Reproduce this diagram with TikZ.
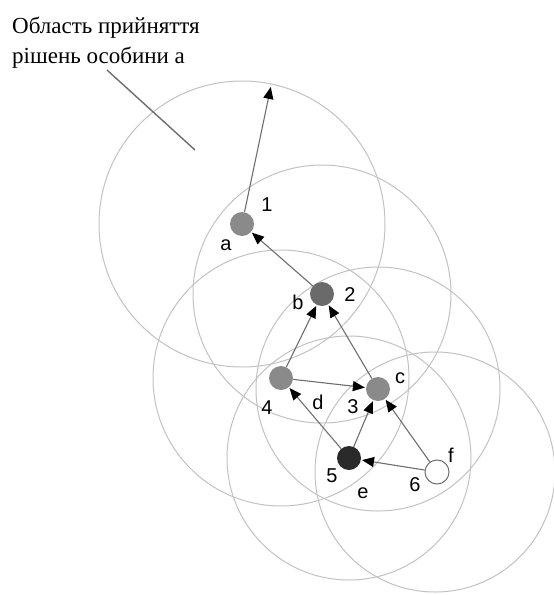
\documentclass[tikz,border=0pt]{standalone}
\usepackage{fontspec}
\setmainfont{Liberation Serif}
\newfontfamily\labfont{Liberation Sans}
\usetikzlibrary{arrows.meta}
\definecolor{ringc}{HTML}{C2C2C2}
\definecolor{linec}{HTML}{6E6E6E}
\definecolor{dotA}{HTML}{8A8A8A}
\definecolor{dotB}{HTML}{6A6A6A}
\definecolor{dotE}{HTML}{2A2A2A}
\tikzset{
  ring/.style={draw=ringc, line width=1pt},
  dot/.style={circle, minimum size=24pt, inner sep=0pt},
  lab/.style={font=\labfont\fontsize{20}{20}\selectfont, inner sep=0pt},
  link/.style={draw=linec, line width=1.1pt, -{Triangle[length=12pt,width=10pt,color=black]}, shorten >=1pt},
}
\begin{document}
\begin{tikzpicture}[x=1pt,y=-1pt]
\useasboundingbox (0,0) rectangle (554,595);
% decision regions
\draw[ring] (242,224) circle[radius=143pt];
\draw[ring] (322,294) circle[radius=129pt];
\draw[ring] (281,378) circle[radius=128pt];
\draw[ring] (378,389) circle[radius=122pt];
\draw[ring] (349,458) circle[radius=122pt];
\draw[ring] (435,472) circle[radius=120pt];
% caption
\node[anchor=base west, inner sep=0pt, font=\fontsize{23}{28}\selectfont] (cap1) at (12,33) {Область прийняття};
\node[anchor=base west, inner sep=0pt, font=\fontsize{23}{28}\selectfont] (cap2) at (12,63) {рішень особини а};
\coordinate (p1) at (107,70);
\coordinate (p2) at (195,150);
\draw[draw=linec, line width=1.4pt] (p1) -- (p2);
% nodes
\node[dot, fill=dotA] (n1) at (242,224) {};
\node[dot, fill=dotB] (n2) at (322,294) {};
\node[dot, fill=dotA] (n4) at (281,378) {};
\node[dot, fill=dotA] (n3) at (378,389) {};
\node[dot, fill=dotE] (n5) at (349,458) {};
\node[dot, fill=white, draw=linec, line width=1pt] (n6) at (437,472) {};
\coordinate (top) at (271,86);
% links
\draw[link] (n1) -- (top);
\draw[link] (n2) -- (n1);
\draw[link] (n4) -- (n2);
\draw[link] (n3) -- (n2);
\draw[link] (n4) -- (n3);
\draw[link] (n5) -- (n4);
\draw[link] (n5) -- (n3);
\draw[link] (n6) -- (n3);
\draw[link] (n6) -- (n5);
% labels
\node[lab] (l1) at (267,205) {1};
\node[lab] (la) at (226,245) {a};
\node[lab] (l2) at (350,295) {2};
\node[lab] (lb) at (298,302) {b};
\node[lab] (lc) at (400,378) {c};
\node[lab] (l3) at (353,407) {3};
\node[lab] (ld) at (318,402) {d};
\node[lab] (l4) at (267,408) {4};
\node[lab] (l5) at (332,476) {5};
\node[lab] (le) at (363,493) {e};
\node[lab] (l6) at (415,485) {6};
\node[lab] (lf) at (451,455) {f};
\end{tikzpicture}
\end{document}
